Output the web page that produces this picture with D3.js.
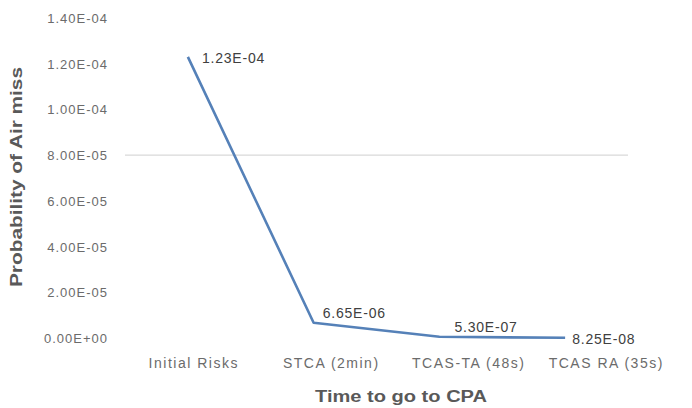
<!DOCTYPE html>
<html>
<head>
<meta charset="utf-8">
<script src="https://cdn.jsdelivr.net/npm/d3@7"></script>
<style>
  html, body { margin: 0; padding: 0; background: #fff; }
  svg { display: block; }
</style>
</head>
<body>
<svg id="chart" width="692" height="408"></svg>
<script>
// Air-miss probability at each stage before closest point of approach
const categories = ["Initial Risks", "STCA (2min)", "TCAS-TA (48s)", "TCAS RA (35s)"];
const probabilities = [1.23e-4, 6.65e-6, 5.30e-7, 8.25e-8];
const valueLabels = ["1.23E-04", "6.65E-06", "5.30E-07", "8.25E-08"];
const yTicks = [0, 2e-5, 4e-5, 6e-5, 8e-5, 1e-4, 1.2e-4, 1.4e-4];
const yTickLabels = ["0.00E+00", "2.00E-05", "4.00E-05", "6.00E-05", "8.00E-05", "1.00E-04", "1.20E-04", "1.40E-04"];
const gridValues = [8e-5];

const svg = d3.select("#chart");
const font = "'Liberation Sans', Arial, sans-serif";

const x = d3.scaleBand().domain(categories).range([125, 628]);
const xLabels = d3.scaleBand().domain(categories).range([125, 675]);
const y = d3.scaleLinear().domain([0, 1.4e-4]).range([338, 18]);

// horizontal gridline
svg.append("g").selectAll("line").data(gridValues).join("line")
  .attr("x1", x.range()[0]).attr("x2", x.range()[1])
  .attr("y1", d => y(d)).attr("y2", d => y(d))
  .attr("stroke", "#d9d9d9").attr("stroke-width", 1.3);

// y axis tick labels
const yAxis = d3.axisLeft(y).tickValues(yTicks)
  .tickFormat((d, i) => yTickLabels[i]).tickSize(0).tickPadding(0);
const gy = svg.append("g").attr("transform", "translate(108,0)").call(yAxis);
gy.select(".domain").remove();
gy.selectAll("text").attr("font-family", font).attr("font-size", 13)
  .attr("letter-spacing", 1).attr("fill", "#6b6b6b").attr("dy", "0.35em");

// x axis category labels
const xAxis = d3.axisBottom(xLabels).tickSize(0).tickPadding(0);
const gx = svg.append("g").attr("transform", "translate(0,358)").call(xAxis);
gx.select(".domain").remove();
gx.selectAll("text").attr("font-family", font).attr("font-size", 14)
  .attr("letter-spacing", 1.5).attr("fill", "#6b6b6b");

// series line
const line = d3.line()
  .x((d, i) => x(categories[i]) + x.bandwidth() / 2)
  .y(d => y(d));
svg.append("path").datum(probabilities)
  .attr("d", line).attr("fill", "none")
  .attr("stroke", "#5581b8").attr("stroke-width", 2.6)
  .attr("stroke-linejoin", "round");

// value labels
const labelOffsets = [[14, 1], [9, -10], [15, -10], [7, 1]];
svg.append("g").selectAll("text").data(probabilities).join("text")
  .attr("x", (d, i) => x(categories[i]) + x.bandwidth() / 2 + labelOffsets[i][0])
  .attr("y", (d, i) => y(d) + labelOffsets[i][1])
  .attr("dy", "0.35em")
  .attr("font-family", font).attr("font-size", 14)
  .attr("letter-spacing", 0.8)
  .attr("fill", "#404040")
  .text((d, i) => valueLabels[i]);

// axis titles
svg.append("text")
  .attr("x", 401).attr("y", 402)
  .attr("text-anchor", "middle")
  .attr("font-family", font).attr("font-size", 16).attr("font-weight", "bold")
  .attr("fill", "#595959")
  .attr("textLength", 172).attr("lengthAdjust", "spacingAndGlyphs")
  .text("Time to go to CPA");

svg.append("text")
  .attr("transform", "translate(22,177) rotate(-90)")
  .attr("text-anchor", "middle")
  .attr("font-family", font).attr("font-size", 16).attr("font-weight", "bold")
  .attr("fill", "#595959")
  .attr("textLength", 220).attr("lengthAdjust", "spacingAndGlyphs")
  .text("Probability of Air miss");
</script>
</body>
</html>
